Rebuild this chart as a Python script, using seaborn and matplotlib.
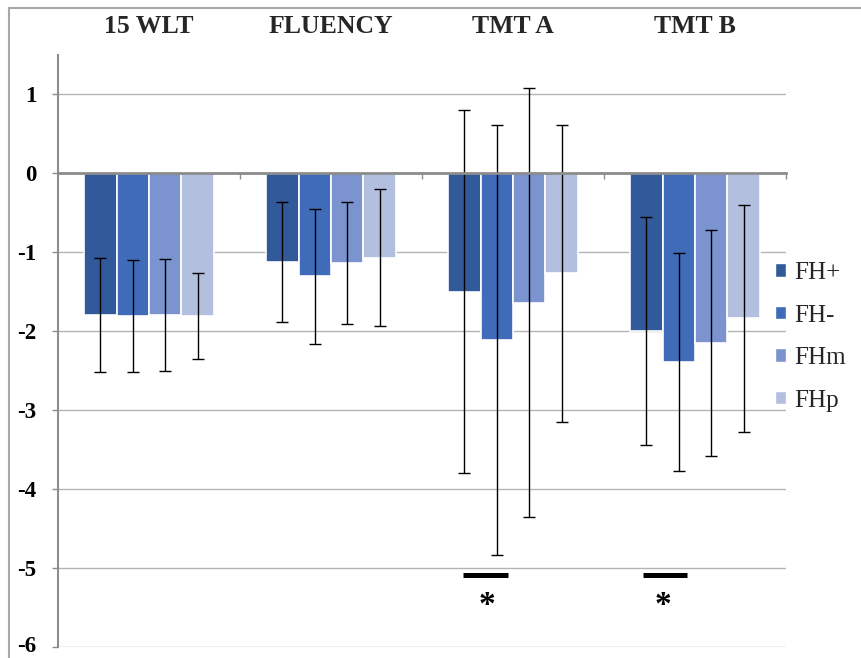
import matplotlib
matplotlib.use('Agg')
import matplotlib.pyplot as plt
import matplotlib.transforms as mtransforms
import seaborn as sns
import numpy as np
import pandas as pd
from matplotlib.patches import Rectangle
from matplotlib.ticker import FixedLocator

tests = ['15 WLT', 'FLUENCY', 'TMT A', 'TMT B']
groups = ['FH+', 'FH-', 'FHm', 'FHp']
colors = ['#325A9B', '#3F6BB9', '#7B93CF', '#B3BFDF']

# mean z-scores per group, one list per test
means = {
    'FH+': [-1.80, -1.13, -1.50, -2.00],
    'FH-': [-1.81, -1.31, -2.11, -2.39],
    'FHm': [-1.80, -1.14, -1.64, -2.15],
    'FHp': [-1.81, -1.07, -1.27, -1.84],
}
# standard deviations
sds = {
    'FH+': [0.72, 0.76, 2.30, 1.44],
    'FH-': [0.71, 0.86, 2.72, 1.38],
    'FHm': [0.71, 0.77, 2.72, 1.43],
    'FHp': [0.54, 0.87, 1.88, 1.44],
}
# significance markers: test, left/right offset from test centre
sig_tests = ['TMT A', 'TMT B']
sig_spans = [(-0.275, -0.027), (-0.286, -0.044)]
sig_star_x = [-0.143, -0.176]

rows = []
for g in groups:
    for t, m, s in zip(tests, means[g], sds[g]):
        rows.append({'test': t, 'group': g, 'mean': m, 'sd': s})
df = pd.DataFrame(rows)

sns.set_theme(style='white')
plt.rcParams['font.family'] = ['Liberation Serif', 'DejaVu Serif']

fig = plt.figure(figsize=(8.61, 6.58), dpi=100)
ax = fig.add_axes([58 / 861, 1 - 647 / 658, (786 - 58) / 861, (647 - 54.5) / 658])

sns.barplot(data=df, x='test', y='mean', hue='group', order=tests,
            hue_order=groups, palette=colors, saturation=1, width=0.714,
            errorbar=None, edgecolor='white', linewidth=1.2, ax=ax, zorder=2)

# error bars on each bar
for g, cont in zip(groups, ax.containers):
    xs = [b.get_x() + b.get_width() / 2 for b in cont]
    ax.errorbar(xs, means[g], yerr=sds[g], fmt='none', ecolor='black',
                elinewidth=1.0, capsize=4, capthick=1.0, zorder=3)

ax.set_xlim(-0.5, 3.5)
ax.set_ylim(-6, 1.5)
ax.set_yticks(range(-6, 2))
ax.set_yticklabels([str(v) for v in range(-6, 2)], fontsize=16.5,
                   fontweight='bold')
ax.set_xlabel('')
ax.set_ylabel('')

ax.grid(axis='y', color='#b4b4b4', linewidth=1.0, zorder=0)
ax.set_axisbelow(True)

for side in ['top', 'right']:
    ax.spines[side].set_visible(False)
ax.spines['bottom'].set_position(('data', 0))
ax.spines['bottom'].set_color('#8c8c8c')
ax.spines['bottom'].set_linewidth(2.0)
ax.spines['bottom'].set_zorder(4)
ax.spines['left'].set_color('#8c8c8c')
ax.spines['left'].set_linewidth(1.5)

ax.tick_params(axis='y', left=True, length=4.5, width=1.0, color='#8c8c8c',
               pad=11, labelcolor='black')
ax.tick_params(axis='x', which='major', bottom=False, top=False,
               labelbottom=False, labeltop=True, pad=6, labelsize=18.5)
for lab in ax.get_xticklabels():
    lab.set_fontweight('bold')
ax.xaxis.set_minor_locator(FixedLocator([0.5, 1.5, 2.5, 3.5]))
ax.tick_params(axis='x', which='minor', bottom=True, top=False,
               direction='out', length=4.5, width=1.0, color='#8c8c8c')

# significance bars and asterisks
for t, (a, b), sx in zip(sig_tests, sig_spans, sig_star_x):
    c = tests.index(t)
    ax.plot([c + a, c + b], [-5.09, -5.09], color='black', linewidth=3.6,
            solid_capstyle='butt', zorder=5, clip_on=False)
    ax.text(c + sx, -5.47, '*', ha='center', va='center', fontsize=24,
            fontweight='bold', color='black', zorder=5)

ax.legend_.remove()
handles = [Rectangle((0, 0), 1, 1, facecolor=c, edgecolor='white') for c in colors]
fig.legend(handles, groups, loc='upper left',
           bbox_to_anchor=(775 / 861, 1 - 262 / 658), frameon=False,
           fontsize=18, handlelength=0.45, handleheight=0.45,
           handletextpad=0.3, labelspacing=0.82, borderpad=0, borderaxespad=0)

# outer chart frame
fig.patches.append(Rectangle((9 / 861, -0.1), 1.2, 1 - 8 / 658 + 0.1,
                             transform=fig.transFigure, fill=False,
                             edgecolor='#a8a8a8', linewidth=1.5, zorder=-1))

# nudge the lowest tick label up a little so it stays inside the canvas
fig.canvas.draw()
low = ax.yaxis.get_major_ticks()[0].label1
low.set_transform(low.get_transform() +
                  mtransforms.ScaledTranslation(0, 3 / 100, fig.dpi_scale_trans))

fig.savefig('out.png', dpi=100)
